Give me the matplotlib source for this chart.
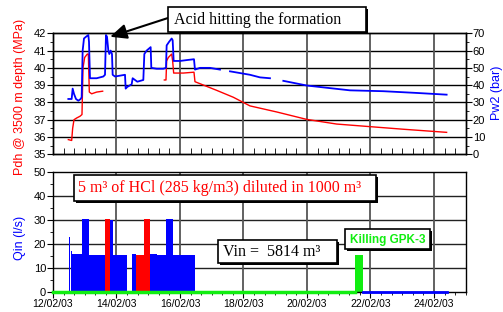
import matplotlib
matplotlib.use('Agg')
import numpy as np
import matplotlib.pyplot as plt
import matplotlib.dates as mdates
from matplotlib import patheffects as pe
from matplotlib.patches import Rectangle

# ---------------- data (time in days after 12/02/03 00:00) ----------------
red_t = [0.483, 0.588, 0.619, 0.661, 0.745, 0.850, 0.913, 0.945, 0.997, 1.081, 1.113, 1.144,
         1.218, 1.375, 1.564, np.nan,
         3.507, 3.559, 3.580, 3.633, 3.738, 3.769, 3.801, 4.105, 4.441, 4.472, 5.155, 5.680,
         6.205, 7.045, 7.990, 8.934, 9.984, 11.034, 12.399]
red_mpa = [35.85, 35.8, 36.5, 37.0, 37.1, 37.2, 37.3, 40.0, 40.6, 40.8, 40.8, 38.6,
           38.5, 38.6, 38.65, np.nan,
           39.3, 39.3, 40.4, 40.6, 40.8, 40.4, 39.7, 39.7, 39.75, 39.2, 38.7, 38.3,
           37.8, 37.45, 37.02, 36.75, 36.6, 36.45, 36.27]

blue_t = [0.483, 0.588, 0.619, 0.661, 0.724, 0.798, 0.871, 0.903, 0.934, 0.976, 1.039, 1.113,
          1.134, 1.165, 1.375, 1.585, 1.638, 1.669, 1.701, 1.743, 1.774, 1.816, 1.858, 1.879,
          1.953, 2.110, 2.268, 2.289, 2.341, 2.478, 2.509, 2.583, 2.656, 2.845, 2.877, 2.950,
          3.076, 3.097, 3.265, 3.475, 3.559, 3.580, 3.654, 3.738, 3.769, 3.801, 4.000, 4.210,
          4.441, 4.472, 4.630, 4.945, 5.260, np.nan,
          5.575, 5.890, 6.205, 6.520, 6.835, np.nan, 7.255, 7.990, 8.619, 9.354, 10.404,
          11.454, 12.399]
blue_bar = [32, 32, 38, 35, 32, 31, 32, 33, 60, 67, 68, 69,
            65, 44, 44, 45, 46, 69, 68, 60, 58, 60, 58, 46,
            45, 45.5, 46, 38, 39, 40.5, 44, 43, 42, 43, 58, 60,
            62, 50, 49.5, 49.5, 50, 63, 65, 67, 66, 54, 54, 54.5,
            55, 49, 50, 50, 49, np.nan,
            48, 47, 46, 44.5, 44, np.nan, 42.5, 39.8, 38.5, 37, 36.5,
            35.5, 34.5]

qin_t = [0.515, 0.545, 0.575, 0.600, 0.619, 0.903, 1.144, 1.638, 1.795, 1.879, 2.320,
         2.499, 2.614, 3.055, 3.265, 3.559, 3.790, 4.472]
qin_blue = [23, 0, 17, 15.6, 15.6, 30.5, 15.5, 0, 30, 15.5, 0,
            15.6, 0, 15.6, 15.3, 30.5, 15.5, 0]
acid_t = [1.638, 1.795, 2.614, 2.866, 3.055]
acid_q = [30.5, 0, 15.5, 30.5, 0]
kill_t = [9.512, 9.774]
kill_q = [15.2, 0]
green_base_t = [0.0, 9.512]
blue_base_t = [9.774, 12.399]

x_start = mdates.date2num(np.datetime64('2003-02-12T00:00'))
def X(d):
    return x_start + np.asarray(d, dtype=float)

RED = '#ff0000'
BLUE = '#0000ff'
GREEN = '#11ee11'

plt.rcParams['font.family'] = ['Liberation Sans', 'DejaVu Sans']
W, H = 503, 312
fig = plt.figure(figsize=(W / 100, H / 100), dpi=100)

def fx(px):
    return px / W
def fy(py):
    return 1 - py / H

ax1 = fig.add_axes([fx(53), fy(154.3), fx(465.7) - fx(53), fy(33.3) - fy(154.3)])
ax3 = fig.add_axes([fx(53), fy(292), fx(465.7) - fx(53), fy(171.7) - fy(292)])

xmaj = X(np.arange(0, 14, 2))
xmin = X(np.arange(0, 13.01, 1 / 3))

# ---------------- top panel ----------------
ax1.set_zorder(2)
ax2 = ax1.twinx()
ax2.set_zorder(3)
ax1.patch.set_visible(True)
ax2.patch.set_visible(False)
for y in range(36, 42):
    ax1.axhline(y, color='black', lw=1.0, zorder=0)
for xv in xmaj[1:]:
    ax1.axvline(xv, color='#555555', lw=1.3, zorder=0)
ax1.plot(X(red_t), red_mpa, color=RED, lw=1.0, zorder=3)
ax2.plot(X(blue_t), blue_bar, color=BLUE, lw=1.3)
ax1.set_ylim(35, 42)
ax2.set_ylim(0, 70)
ax1.set_xlim(X(0), X(13))
ax1.set_yticks(range(35, 43))
ax1.set_yticks(np.arange(35, 42.01, 0.5), minor=True)
ax2.set_yticks(range(0, 71, 10))
ax2.set_yticks(range(0, 71, 5), minor=True)
ax1.set_xticks(xmaj)
ax1.set_xticks(xmin, minor=True)
ax1.tick_params(axis='x', which='both', direction='in', labelbottom=False, length=4, color='black')
ax1.tick_params(axis='x', which='major', length=0)
ax1.tick_params(axis='y', which='major', direction='out', length=4, labelsize=8, pad=1)
ax1.tick_params(axis='y', which='minor', direction='out', length=2)
ax2.tick_params(axis='y', which='major', direction='out', length=4, labelsize=8, pad=1)
ax2.tick_params(axis='y', which='minor', direction='out', length=2)

# ---------------- bottom panel ----------------
for y in range(10, 50, 10):
    ax3.axhline(y, color='#222222', lw=1.0, zorder=0)
for xv in xmaj[1:]:
    ax3.axvline(xv, color='#555555', lw=1.3, zorder=0)
ax3.fill_between(X(qin_t), qin_blue, step='post', color=BLUE, lw=0, zorder=2)
ax3.fill_between(X(acid_t), acid_q, step='post', color=RED, lw=0, zorder=2)
ax3.fill_between(X(kill_t), kill_q, step='post', color=GREEN, lw=0, zorder=2)
ax3.plot(X(green_base_t), [0, 0], color=GREEN, lw=2.5, zorder=4, clip_on=False)
ax3.plot(X(blue_base_t), [0, 0], color=BLUE, lw=2.0, zorder=4, clip_on=False)
ax3.set_xlim(X(0), X(13))
ax3.set_ylim(0, 50)
ax3.set_yticks(range(0, 51, 10))
ax3.set_yticks(range(0, 51, 5), minor=True)
ax3.set_xticks(xmaj)
ax3.set_xticks(xmin, minor=True)
ax3.xaxis.set_major_formatter(mdates.DateFormatter('%d/%m/%y'))
ax3.tick_params(axis='x', which='major', direction='out', length=4, labelsize=7.5, pad=1)
ax3.tick_params(axis='x', which='minor', direction='out', length=2.5)
ax3.tick_params(axis='y', which='major', direction='out', length=4, labelsize=8, pad=1)
ax3.tick_params(axis='y', which='minor', direction='out', length=2)

for a in (ax1, ax2, ax3):
    for s in a.spines.values():
        s.set_linewidth(1.0)
        s.set_color('black')

# ---------------- axis labels ----------------
fig.text(fx(20), fy(97), 'Pdh @ 3500 m depth (MPa)', rotation=90, color=RED,
         fontsize=9, ha='center', va='center')
fig.text(fx(20), fy(238), 'Qin (l/s)', rotation=90, color=BLUE,
         fontsize=9, ha='center', va='center')
fig.text(fx(497), fy(93), 'Pw2 (bar)', rotation=90, color=BLUE,
         fontsize=9, ha='center', va='center')

# ---------------- boxes ----------------
shadow = [pe.SimplePatchShadow(offset=(1.3, -1.3), shadow_rgbFace='black', alpha=1.0), pe.Normal()]
def box(x0, y0, x1, y1):
    r = Rectangle((fx(x0), fy(y1)), fx(x1) - fx(x0), fy(y0) - fy(y1), transform=fig.transFigure,
                  facecolor='white', edgecolor='black', lw=1.2, zorder=10)
    r.set_path_effects(shadow)
    fig.patches.append(r)

serif = ['Liberation Serif', 'DejaVu Serif']
box(168, 7, 366, 32)
fig.text(fx(174), fy(20), 'Acid hitting the formation', family=serif, fontsize=11.5,
         ha='left', va='center', zorder=11)
box(74, 175, 376, 201)
fig.text(fx(78), fy(188.5), '5 m³ of HCl (285 kg/m3) diluted in 1000 m³', family=serif,
         fontsize=11.5, color=RED, ha='left', va='center', zorder=11)
box(218, 240, 337, 263)
fig.text(fx(223), fy(252), 'Vin =  5814 m³', family=serif, fontsize=11.5,
         ha='left', va='center', zorder=11)
box(345, 229, 430, 249)
fig.text(fx(387.5), fy(239.5), 'Killing GPK-3', fontsize=8.5, fontweight='bold', color=GREEN,
         ha='center', va='center', zorder=11)

# arrow
ax1.annotate('', xy=(X(1.80), 41.8), xycoords='data',
             xytext=(fx(168), fy(18)), textcoords='figure fraction',
             arrowprops=dict(arrowstyle='-|>,head_length=1.0,head_width=0.45', color='black',
                             lw=1.5, shrinkA=0, shrinkB=0),
             annotation_clip=False, zorder=12)

fig.savefig('out.png', dpi=100)
